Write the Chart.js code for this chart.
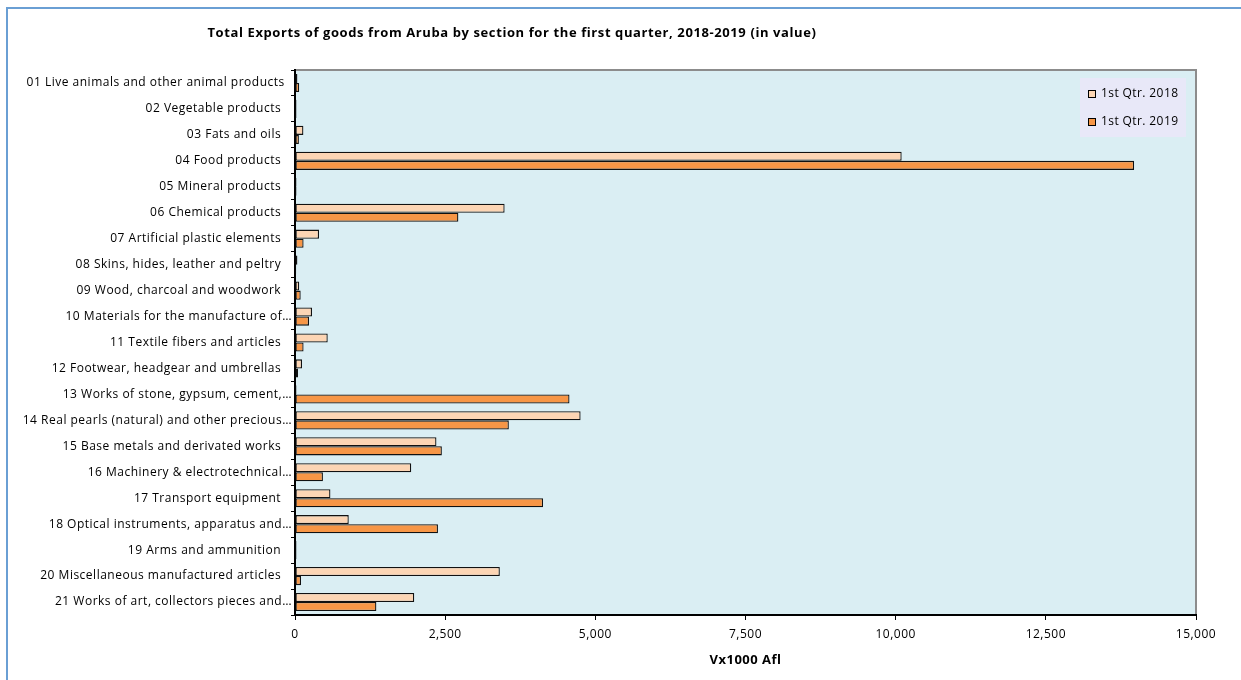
<!DOCTYPE html>
<html>
<head>
<meta charset="utf-8">
<script src="https://cdn.jsdelivr.net/npm/chart.js@4.4.1/dist/chart.umd.min.js"></script>
<style>
  html, body { margin: 0; padding: 0; background: #ffffff; overflow: hidden; width: 1241px; height: 680px; }
  #frame { position: absolute; left: 6px; top: 7px; width: 2000px; height: 2000px; border: 2px solid #6a9fd4; box-sizing: border-box; }
  #wrap { position: absolute; left: 0; top: 0; width: 1241px; height: 680px; }
</style>
</head>
<body>
<div id="frame"></div>
<div id="wrap"><canvas id="c" width="1241" height="680"></canvas></div>
<script>
const chartTitle = "Total Exports of goods from Aruba by section for the first quarter, 2018-2019 (in value)";
const axisTitle = "Vx1000 Afl";
const categories = [
  "01 Live animals and other animal products  ",
  "02 Vegetable products   ",
  "03 Fats and oils   ",
  "04 Food products   ",
  "05 Mineral products   ",
  "06 Chemical products   ",
  "07 Artificial plastic elements   ",
  "08 Skins, hides, leather and peltry   ",
  "09 Wood, charcoal and woodwork   ",
  "10 Materials for the manufacture of…",
  "11 Textile fibers and articles   ",
  "12 Footwear, headgear and umbrellas   ",
  "13 Works of stone, gypsum, cement,…",
  "14 Real pearls (natural) and other precious…",
  "15 Base metals and derivated works   ",
  "16 Machinery & electrotechnical…",
  "17 Transport equipment   ",
  "18 Optical instruments, apparatus and…",
  "19 Arms and ammunition   ",
  "20 Miscellaneous manufactured articles   ",
  "21 Works of art, collectors pieces and…"
];
const seriesNames = ["1st Qtr. 2018", "1st Qtr. 2019"];
const exports2018 = [40, 25, 140, 10100, 25, 3490, 400, 40, 70, 283, 545, 117, 25, 4755, 2355, 1935, 590, 895, 25, 3410, 1985];
const exports2019 = [70, 25, 65, 13970, 25, 2720, 143, 20, 95, 233, 143, 50, 4570, 3560, 2445, 465, 4130, 2380, 25, 100, 1355];
const xMin = 0, xMax = 15000, xStep = 2500;

const colors2018 = "#fcd5b4";
const colors2019 = "#f79646";
const FONT = "'Open Sans', Lato, sans-serif";

const decorPlugin = {
  id: 'decor',
  beforeDraw(chart) {
    const { ctx, chartArea: a } = chart;
    ctx.save();
    ctx.fillStyle = "#daeef3";
    ctx.fillRect(a.left, a.top, a.right - a.left, a.bottom - a.top);
    ctx.strokeStyle = "#8c8c8c";
    ctx.lineWidth = 2;
    ctx.beginPath();
    ctx.moveTo(a.left, a.top);
    ctx.lineTo(a.right, a.top);
    ctx.lineTo(a.right, a.bottom);
    ctx.stroke();
    ctx.fillStyle = "#000";
    ctx.font = "bold 13px " + FONT;
    ctx.letterSpacing = "0.6px";
    ctx.textAlign = "center";
    ctx.textBaseline = "middle";
    ctx.fillText(chartTitle, 512, 33);
    ctx.font = "bold 13px " + FONT;
    ctx.letterSpacing = "0.5px";
    ctx.fillText(axisTitle, (a.left + a.right) / 2, 660);
    ctx.restore();
    ctx.letterSpacing = "0.5px";
  },
  afterDraw(chart) {
    const { ctx } = chart;
    ctx.save();
    const lx = 1080, ly = 78, lw = 106, lh = 59;
    ctx.fillStyle = "#e8e8f8";
    ctx.fillRect(lx, ly, lw, lh);
    ctx.font = "12px " + FONT;
    ctx.letterSpacing = "0.4px";
    ctx.textBaseline = "middle";
    ctx.textAlign = "left";
    chart.data.datasets.forEach((ds, i) => {
      const cy = i === 0 ? 94 : 122;
      ctx.fillStyle = ds.backgroundColor;
      ctx.fillRect(1088.5, cy - 3.5, 7, 7);
      ctx.strokeStyle = "#000";
      ctx.lineWidth = 1;
      ctx.strokeRect(1088.5, cy - 3.5, 7, 7);
      ctx.fillStyle = "#000";
      ctx.fillText(ds.label, 1101, cy);
    });
    ctx.restore();
  }
};

new Chart(document.getElementById('c'), {
  type: 'bar',
  data: {
    labels: categories,
    datasets: [
      { label: seriesNames[0], data: exports2018, backgroundColor: colors2018, borderColor: "#111", borderWidth: 1.3, borderSkipped: false },
      { label: seriesNames[1], data: exports2019, backgroundColor: colors2019, borderColor: "#111", borderWidth: 1.3, borderSkipped: false }
    ]
  },
  options: {
    indexAxis: 'y',
    responsive: false,
    animation: false,
    devicePixelRatio: 1,
    layout: { padding: { top: 70, left: 0, right: 45, bottom: 0 } },
    datasets: { bar: { categoryPercentage: 0.7, barPercentage: 1.0 } },
    plugins: { legend: { display: false }, tooltip: { enabled: false }, title: { display: false } },
    scales: {
      x: {
        min: xMin, max: xMax,
        ticks: { stepSize: xStep, color: "#000", font: { family: FONT, size: 12 }, padding: 7, maxRotation: 0,
          callback: v => v.toLocaleString('en-US') },
        grid: { drawOnChartArea: false, drawTicks: true, tickLength: 5, color: "#000", lineWidth: 1 },
        border: { display: true, color: "#000", width: 2 },
        title: { display: false },
        afterFit: s => { s.height = 65; }
      },
      y: {
        ticks: { color: "#000", font: { family: FONT, size: 12 }, padding: -1, autoSkip: false },
        grid: { drawOnChartArea: false, drawTicks: true, tickLength: 4, color: "#000", offset: true },
        border: { display: true, color: "#000", width: 2 },
        afterFit: s => { s.width = 295; }
      }
    }
  },
  plugins: [decorPlugin]
});
</script>
</body>
</html>
